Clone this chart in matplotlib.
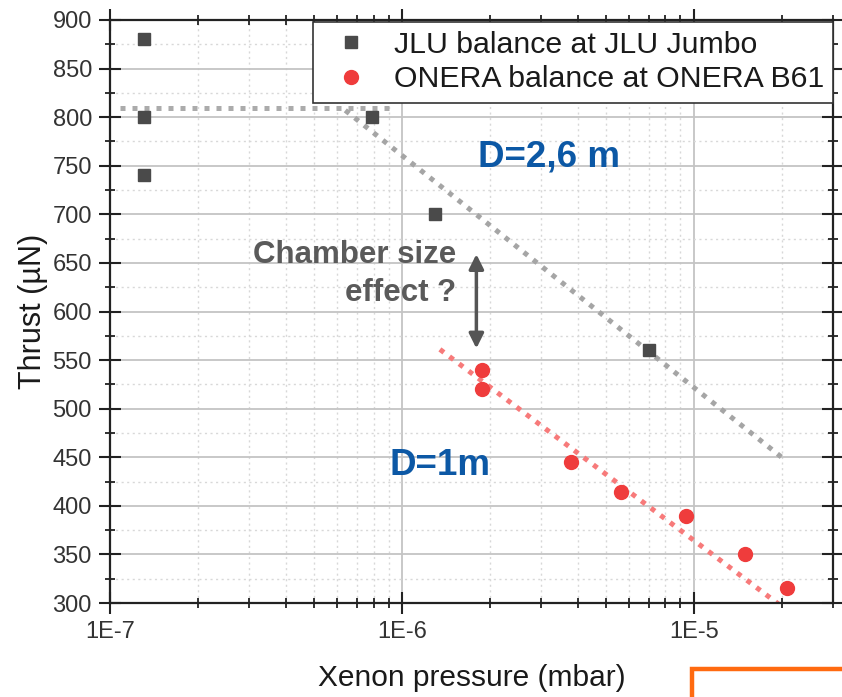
import matplotlib
matplotlib.use("Agg")
import matplotlib.pyplot as plt
from matplotlib.ticker import FixedLocator, FixedFormatter, LogLocator, NullFormatter, MultipleLocator
from matplotlib.patches import Rectangle

plt.rcParams['font.family'] = ['Liberation Sans', 'DejaVu Sans']

# Measured thrust versus background xenon pressure
jlu_pressure = [1.31e-7, 1.31e-7, 1.31e-7, 7.9e-7, 1.30e-6, 7.05e-6]
jlu_thrust = [880, 800, 740, 800, 700, 560]

onera_pressure = [1.88e-6, 1.88e-6, 3.8e-6, 5.65e-6, 9.4e-6, 1.5e-5, 2.08e-5]
onera_thrust = [540, 520, 445, 414, 390, 350, 315]

# Trend guides
jlu_plateau_x = [1.08e-7, 9.3e-7]
jlu_plateau_y = [809, 809]
jlu_trend_x = [6.4e-7, 2.02e-5]
jlu_trend_y = [807, 449]
onera_trend_x = [1.35e-6, 1.95e-5]
onera_trend_y = [561, 299]

x_ticks = [1e-7, 1e-6, 1e-5]
x_ticklabels = ['1E-7', '1E-6', '1E-5']
y_ticks = list(range(300, 901, 50))

fig = plt.figure(figsize=(8.42, 6.97), dpi=100)
ax = fig.add_axes([110 / 842, 1 - 603 / 697, 723 / 842, 583 / 697])

ax.set_xscale('log')
ax.set_xlim(1e-7, 3.0e-5)
ax.set_ylim(300, 900)

# grid
ax.xaxis.set_major_locator(FixedLocator(x_ticks))
ax.xaxis.set_major_formatter(FixedFormatter(x_ticklabels))
ax.xaxis.set_minor_locator(LogLocator(base=10, subs=range(2, 10)))
ax.xaxis.set_minor_formatter(NullFormatter())
ax.yaxis.set_major_locator(FixedLocator(y_ticks))
ax.yaxis.set_minor_locator(MultipleLocator(25))

ax.grid(which='major', color='#c4c4c4', linewidth=1.3, linestyle='-', zorder=0)
ax.grid(which='minor', color='#d8d8d8', linewidth=1.0, linestyle=(0, (1.5, 2.5)), zorder=0)
ax.set_axisbelow(True)

for s in ax.spines.values():
    s.set_linewidth(1.6)
    s.set_color('#222222')

ax.tick_params(which='major', direction='inout', length=16, width=1.5, colors='#222222',
               top=True, right=True, labelsize=17, labelcolor='#333333', pad=5)
ax.tick_params(which='minor', direction='inout', length=7, width=1.3, colors='#222222',
               top=True, right=True)

# trend lines
dot_style = dict(linewidth=3.6, linestyle=(0, (1.0, 1.4)), solid_capstyle='butt',
                 dash_capstyle='butt', zorder=2)
ax.plot(jlu_plateau_x, jlu_plateau_y, color='#ababab', **dot_style)
ax.plot(jlu_trend_x, jlu_trend_y, color='#a5a5a5', **dot_style)
ax.plot(onera_trend_x, onera_trend_y, color='#f77a7a', **dot_style)

# data
ax.plot(jlu_pressure, jlu_thrust, linestyle='none', marker='s', markersize=9,
        color='#4a4a4a', label='JLU balance at JLU Jumbo', zorder=3)
ax.plot(onera_pressure, onera_thrust, linestyle='none', marker='o', markersize=10,
        color='#ef3c3c', label='ONERA balance at ONERA B61', zorder=3)

leg = ax.legend(loc='upper right', bbox_to_anchor=(1.0, 0.997), borderaxespad=0,
                fontsize=21.8, frameon=True, fancybox=False, framealpha=1,
                edgecolor='#333333', handlelength=1.9, handletextpad=0.45,
                labelspacing=0.22, borderpad=0.3)
leg.get_frame().set_linewidth(1.2)
for t in leg.get_texts():
    t.set_color('#1a1a1a')

# annotations
blue = '#0c58a5'
ax.text(1.82e-6, 759, 'D=2,6 m', color=blue, fontsize=26.5, fontweight='bold',
        ha='left', va='center')
ax.text(9.1e-7, 442, 'D=1m', color=blue, fontsize=26.5, fontweight='bold',
        ha='left', va='center')
gray = '#5a5a5a'
ax.text(1.54e-6, 658, 'Chamber size', color=gray, fontsize=22.5, fontweight='bold',
        ha='right', va='center')
ax.text(1.54e-6, 619, 'effect ?', color=gray, fontsize=22.5, fontweight='bold',
        ha='right', va='center')
ax.annotate('', xy=(1.80e-6, 562), xytext=(1.80e-6, 659),
            arrowprops=dict(arrowstyle='<|-|>', color='#555555', lw=2.5,
                            mutation_scale=22, shrinkA=0, shrinkB=0))

ax.set_xlabel('Xenon pressure (mbar)', fontsize=21.5, color='#1a1a1a', labelpad=15)
ax.set_ylabel('Thrust (µN)', fontsize=22, color='#1a1a1a', labelpad=3)

# partial orange frame in the lower right corner
fig.patches.append(Rectangle((692 / 842, -0.1), 0.5, (697 - 669) / 697 + 0.1,
                             transform=fig.transFigure, fill=False,
                             edgecolor='#ff6a10', linewidth=3.2, clip_on=False))

fig.savefig('out.png', dpi=100)
